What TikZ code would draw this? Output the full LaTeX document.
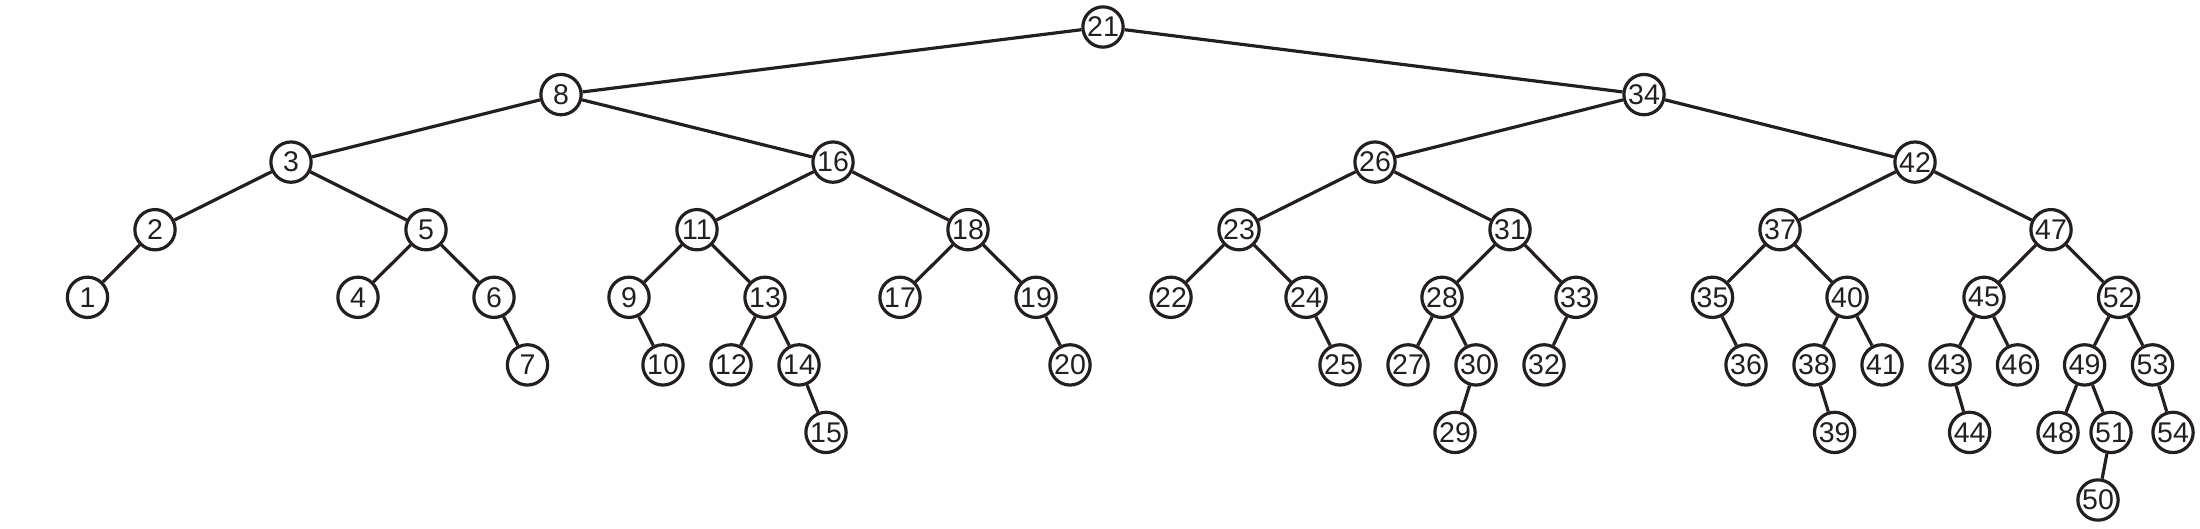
\documentclass[tikz,border=0pt]{standalone}
\usepackage{fontspec}
\setmainfont{Liberation Sans}
\definecolor{ink}{HTML}{231F20}
\begin{document}
\begin{tikzpicture}[x=1pt,y=-1pt,
  nd/.style={circle,draw=ink,line width=3.2pt,fill=white,minimum size=40.3pt,inner sep=0pt,
    font=\fontsize{28.5}{28.5}\selectfont,text=ink},
  ed/.style={draw=ink,line width=3.2pt}]
\useasboundingbox (0,0) rectangle (2200,528);
\def\la{27}\def\lb{94.6}\def\lc{162.1}\def\ld{229.7}\def\le{297.3}\def\lf{364.9}\def\lg{432.4}\def\lh{500}
% level 0
\node[nd] (n21) at (1103,\la) {21};
% level 1
\node[nd] (n8) at (561,\lb) {8};
\node[nd] (n34) at (1644,\lb) {34};
% level 2
\node[nd] (n3) at (291,\lc) {3};
\node[nd] (n16) at (833,\lc) {16};
\node[nd] (n26) at (1375,\lc) {26};
\node[nd] (n42) at (1915,\lc) {42};
% level 3
\node[nd] (n2) at (155,\ld) {2};
\node[nd] (n5) at (426,\ld) {5};
\node[nd] (n11) at (697,\ld) {11};
\node[nd] (n18) at (968,\ld) {18};
\node[nd] (n23) at (1239,\ld) {23};
\node[nd] (n31) at (1510,\ld) {31};
\node[nd] (n37) at (1780,\ld) {37};
\node[nd] (n47) at (2051,\ld) {47};
% level 4
\node[nd] (n1) at (87.5,\le) {1};
\node[nd] (n4) at (358,\le) {4};
\node[nd] (n6) at (494,\le) {6};
\node[nd] (n9) at (629,\le) {9};
\node[nd] (n13) at (765,\le) {13};
\node[nd] (n17) at (900,\le) {17};
\node[nd] (n19) at (1036,\le) {19};
\node[nd] (n22) at (1171,\le) {22};
\node[nd] (n24) at (1306,\le) {24};
\node[nd] (n28) at (1442,\le) {28};
\node[nd] (n33) at (1576,\le) {33};
\node[nd] (n35) at (1712.5,\le) {35};
\node[nd] (n40) at (1847,\le) {40};
\node[nd] (n45) at (1984,\le) {45};
\node[nd] (n52) at (2118.6,\le) {52};
% level 5
\node[nd] (n7) at (527.5,\lf) {7};
\node[nd] (n10) at (663,\lf) {10};
\node[nd] (n12) at (731,\lf) {12};
\node[nd] (n14) at (799,\lf) {14};
\node[nd] (n20) at (1070,\lf) {20};
\node[nd] (n25) at (1340,\lf) {25};
\node[nd] (n27) at (1408,\lf) {27};
\node[nd] (n30) at (1476,\lf) {30};
\node[nd] (n32) at (1544,\lf) {32};
\node[nd] (n36) at (1746,\lf) {36};
\node[nd] (n38) at (1814,\lf) {38};
\node[nd] (n41) at (1882,\lf) {41};
\node[nd] (n43) at (1950,\lf) {43};
\node[nd] (n46) at (2017.5,\lf) {46};
\node[nd] (n49) at (2084.6,\lf) {49};
\node[nd] (n53) at (2152.5,\lf) {53};
% level 6
\node[nd] (n15) at (826,\lg) {15};
\node[nd] (n29) at (1455,\lg) {29};
\node[nd] (n39) at (1834.6,\lg) {39};
\node[nd] (n44) at (1969.6,\lg) {44};
\node[nd] (n48) at (2058,\lg) {48};
\node[nd] (n51) at (2111,\lg) {51};
\node[nd] (n54) at (2173,\lg) {54};
% level 7
\node[nd] (n50) at (2098,\lh) {50};
% edges
\foreach \a/\b in {21/8,21/34,8/3,8/16,34/26,34/42,
  3/2,3/5,16/11,16/18,26/23,26/31,42/37,42/47,
  2/1,5/4,5/6,11/9,11/13,18/17,18/19,23/22,23/24,31/28,31/33,37/35,37/40,47/45,47/52,
  6/7,9/10,13/12,13/14,19/20,24/25,28/27,28/30,33/32,35/36,40/38,40/41,45/43,45/46,52/49,52/53,
  14/15,30/29,38/39,43/44,49/48,49/51,53/54,51/50}
  \draw[ed] (n\a) -- (n\b);
\end{tikzpicture}
\end{document}
